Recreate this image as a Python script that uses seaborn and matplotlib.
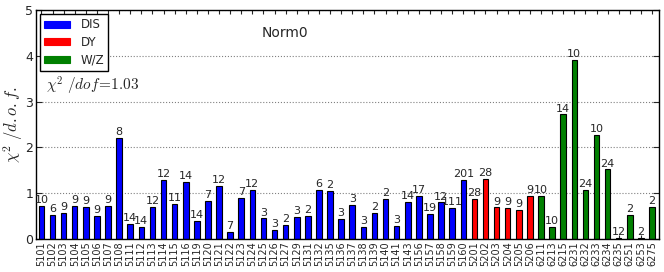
import matplotlib
matplotlib.use("Agg")
import matplotlib.pyplot as plt
import seaborn as sns
import pandas as pd
import numpy as np

# %%
# datasets, chi2/dof per dataset and number of points
datasets = ["5101", "5102", "5103", "5104", "5105", "5106", "5107", "5108",
            "5111", "5112", "5113", "5114", "5115", "5116", "5119", "5120",
            "5121", "5122", "5123", "5124", "5125", "5126", "5127", "5129",
            "5131", "5132", "5135", "5136", "5137", "5138", "5139", "5140",
            "5141", "5143", "5156", "5157", "5158", "5159", "5160",
            "5201", "5202", "5203", "5204", "5205", "5206",
            "6211", "6213", "6215", "6231", "6232", "6233", "6234", "6235",
            "6251", "6253", "6275"]
chi2 = [0.73, 0.53, 0.58, 0.73, 0.71, 0.50, 0.72, 2.20,
        0.34, 0.26, 0.71, 1.30, 0.77, 1.24, 0.40, 0.84,
        1.16, 0.15, 0.90, 1.07, 0.45, 0.19, 0.31, 0.49,
        0.50, 1.07, 1.06, 0.44, 0.75, 0.26, 0.58, 0.88,
        0.28, 0.82, 0.95, 0.55, 0.80, 0.68, 1.30,
        0.88, 1.32, 0.69, 0.67, 0.63, 0.95,
        0.95, 0.26, 2.72, 3.91, 1.07, 2.27, 1.52, 0.03,
        0.53, 0.015, 0.71]
npts = [10, 6, 9, 9, 9, 9, 9, 8,
        14, 14, 12, 12, 11, 14, 14, 7,
        12, 7, 7, 12, 3, 3, 2, 3,
        2, 6, 2, 3, 3, 3, 2, 2,
        3, 14, 17, 19, 12, 111, 201,
        28, 28, 9, 9, 9, 9,
        10, 10, 14, 10, 24, 10, 24, 12,
        2, 2, 2]
groups = ["DIS"] * 39 + ["DY"] * 6 + ["W/Z"] * 11
palette = {"DIS": "#0000ff", "DY": "#ff0000", "W/Z": "#008000"}
total_chi2 = 1.03

df = pd.DataFrame({"dataset": datasets, "chi2": chi2, "npts": npts, "group": groups})

# %%
sns.set_style("ticks")
plt.rcParams["font.family"] = ["DejaVu Sans"]
plt.rcParams["mathtext.fontset"] = "cm"
plt.rcParams["xtick.direction"] = "in"
plt.rcParams["ytick.direction"] = "in"

fig = plt.figure(figsize=(6.64, 2.72), dpi=100)
ax = fig.add_axes([0.054, 0.121, 0.938, 0.842])

sns.barplot(data=df, x="dataset", y="chi2", hue="group", palette=palette,
            dodge=False, width=0.5, edgecolor="black", linewidth=0.8,
            saturation=1, ax=ax)

# number of points on top of each bar
for i, (v, n) in enumerate(zip(chi2, npts)):
    ax.text(i, v + 0.02, str(n), ha="center", va="bottom", fontsize=8)

ax.set_xlim(-0.5, len(datasets) - 0.4)
ax.set_ylim(0, 5)
ax.set_yticks(range(6))
ax.tick_params(axis="y", labelsize=9, length=4, right=True, pad=2)
ax.tick_params(axis="x", labelsize=7, rotation=90, length=3, top=True, pad=1.5)
ax.yaxis.grid(True, linestyle=":", color="gray", linewidth=0.8)
ax.set_axisbelow(True)
for s in ax.spines.values():
    s.set_color("black")
    s.set_linewidth(1)

ax.set_xlabel("")
ax.set_ylabel(r"$\chi^2\ /d.o.f.$", fontsize=12)
ax.yaxis.set_label_coords(-0.018, 0.5)

ax.text(0.40, 0.90, "Norm0", transform=ax.transAxes, ha="center", va="center", fontsize=10)
ax.text(0.016, 0.67, r"$\chi^2\ /dof\!=\!%.2f$" % total_chi2, transform=ax.transAxes,
        ha="left", va="center", fontsize=11)

leg = ax.legend(loc="upper left", fontsize=8.5, handlelength=2.2, handleheight=0.5,
                handletextpad=0.9, labelspacing=0.4, borderpad=0.35,
                fancybox=False, framealpha=1, borderaxespad=0.35)
leg.get_frame().set_edgecolor("black")
leg.set_title(None)
for h in leg.legend_handles:
    h.set_edgecolor(h.get_facecolor())

fig.savefig("out.png", dpi=100)
